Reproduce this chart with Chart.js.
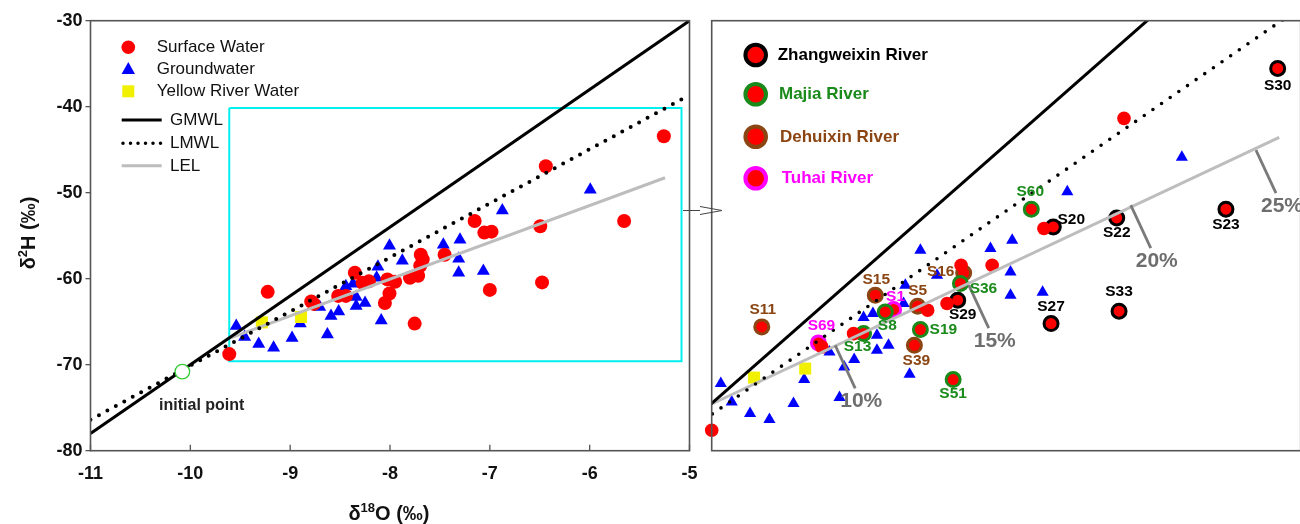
<!DOCTYPE html>
<html><head><meta charset="utf-8">
<script src="https://cdn.jsdelivr.net/npm/chart.js@4.4.1/dist/chart.umd.min.js"></script>
<style>
html,body{margin:0;padding:0;background:#fff;overflow:hidden;width:1300px;height:524px;position:relative;}
#cL{position:absolute;left:0;top:0;}
#cR{position:absolute;left:700px;top:0;}
</style></head><body>
<canvas id="cL" width="700" height="524"></canvas>
<canvas id="cR" width="620" height="524"></canvas>
<script>
// ---------------- DATA ----------------
const xTicks = [-11, -10, -9, -8, -7, -6, -5];
const yTicks = [-80, -70, -60, -50, -40, -30];

// unlabelled surface water samples
const surfaceX = [-9.61, -8.763, -8.519, -7.949, -7.80, -7.692, -7.453, -7.055, -6.439];
const surfaceY = [-68.77, -62.93, -62.0, -60.36, -59.89, -57.21, -57.21, -54.64, -46.93];

// labelled surface water samples (by river)
const riverNames = ['Zhangweixin River', 'Majia River', 'Dehuixin River', 'Tuhai River'];
const sampleIds = ['S20','S22','S23','S27','S29','S30','S33','S8','S13','S19','S36','S51','S60','S5','S11','S15','S16','S39','S1','S69'];
const sampleX = [-6.983,-6.495,-5.655,-7.00,-7.718,-5.257,-6.477,-8.275,-8.442,-8.005,-7.697,-7.753,-7.152,-8.026,-9.225,-8.352,-7.672,-8.051,-8.211,-8.789];
const sampleY = [-54.53,-53.90,-53.29,-61.30,-59.66,-43.43,-60.43,-60.48,-62.0,-61.72,-58.49,-65.22,-53.29,-60.08,-61.53,-59.31,-57.75,-62.82,-60.31,-62.65];
const sampleRiver = [0,0,0,0,0,0,0,1,1,1,1,1,1,2,2,2,2,2,3,3];

// groundwater
const groundX = [-9.54,-9.456,-9.315,-9.166,-8.981,-8.899,-8.627,-8.591,-8.514,-8.704,-8.442,-8.37,-8.339,-8.339,-8.25,-8.121,-8.134,-8.005,-7.877,-8.088,-7.466,-7.299,-7.312,-7.312,-7.065,-6.875,-5.994];
const groundY = [-65.50,-66.79,-67.60,-68.02,-66.90,-65.22,-66.48,-64.34,-63.82,-63.29,-60.88,-60.60,-62.12,-63.17,-62.82,-58.61,-59.89,-56.16,-57.91,-64.85,-56.04,-55.46,-57.68,-59.31,-59.11,-52.07,-49.66];

// Yellow River water
const yellowX = [-9.284, -8.891];
const yellowY = [-65.08, -64.45];

// initial point
const initX = [-10.08];
const initY = [-70.8];

// water lines (end points)
const gmwlX = [-11, -5];      const gmwlY = [-78, -30];
const lmwlX = [-11, -5.03];   const lmwlY = [-76.4, -38.84];
const lelX  = [-9.61, -5.245]; const lelY = [-66.93, -48.26];

// evaporation fractions along LEL
const evapLabels = ['10%', '15%', '20%', '25%'];
const evapX = [-8.66, -7.633, -6.387, -5.424];
const evapY = [-62.82, -58.61, -53.0, -49.15];

// zoom box (left panel) = right panel ranges
const boxX = [-9.61, -5.08];
const boxY = [-69.6, -40.15];
const zoomY = [-70.2, -40.09];

// ---------------- STYLE ----------------
const FONT = "'Liberation Sans', Arial, Helvetica, sans-serif";
const riverColors = ['#000000', '#1a8a1a', '#8b4513', '#ff00ff'];
const labelOffsets = {
  S30:[0,17], S20:[18,-7], S22:[0,15], S23:[0,16], S27:[0,-17], S33:[0,-19], S29:[5,15],
  S60:[-1,-17], S36:[23,5], S19:[23,0], S8:[2,14], S13:[-6,13], S51:[0,14],
  S5:[0,-15], S11:[1,-17], S15:[1,-15], S16:[-23,-1], S39:[2,15], S1:[2,-13], S69:[3,-17]
};
const RED = '#ff0000', BLUE = '#0000ff', YELLOW = '#f0f000';

const pts = (xs, ys) => xs.map((v, i) => ({x: v, y: ys[i]}));

function lineDs(xs, ys, color, width, extra) {
  return Object.assign({type: 'line', data: pts(xs, ys), borderColor: color, borderWidth: width,
    pointRadius: 0, showLine: true, fill: false, tension: 0, clip: 0, order: 0}, extra || {});
}
function pointDs(xs, ys, style, r, bg, extra) {
  return Object.assign({type: 'scatter', data: pts(xs, ys), pointStyle: style, pointRadius: r,
    pointBackgroundColor: bg, pointBorderWidth: 0, pointBorderColor: bg, showLine: false, clip: false, order: 5}, extra || {});
}
function txt(ctx, s, x, y, font, color, align, base) {
  ctx.save(); ctx.font = font; ctx.fillStyle = color;
  ctx.textAlign = align || 'center'; ctx.textBaseline = base || 'middle';
  ctx.fillText(s, x, y); ctx.restore();
}
function supText(ctx, parts, cx, cy, rot) {
  ctx.save();
  ctx.translate(cx, cy); ctx.rotate(rot);
  const big = 'bold 20px ' + FONT, small = 'bold 13px ' + FONT;
  let w = 0;
  parts.forEach(p => { ctx.font = p[1] ? small : big; w += ctx.measureText(p[0]).width; });
  let x = -w / 2;
  ctx.fillStyle = '#111'; ctx.textBaseline = 'alphabetic'; ctx.textAlign = 'left';
  parts.forEach(p => {
    ctx.font = p[1] ? small : big;
    ctx.fillText(p[0], x, p[1] ? -1.5 : 7);
    x += ctx.measureText(p[0]).width;
  });
  ctx.restore();
}
function circle(ctx, x, y, r, fill, stroke, lw) {
  ctx.beginPath(); ctx.arc(x, y, r, 0, Math.PI * 2);
  if (fill) { ctx.fillStyle = fill; ctx.fill(); }
  if (stroke) { ctx.strokeStyle = stroke; ctx.lineWidth = lw; ctx.stroke(); }
}

const common = {
  responsive: false, animation: false, events: [],
  plugins: {legend: {display: false}, tooltip: {enabled: false}}
};

// ---------------- LEFT PANEL ----------------
const allSurfX = surfaceX.concat(sampleX), allSurfY = surfaceY.concat(sampleY);
const boxPathX = [boxX[0], boxX[1], boxX[1], boxX[0], boxX[0]];
const boxPathY = [boxY[1], boxY[1], boxY[0], boxY[0], boxY[1]];

const leftDeco = {
  id: 'leftDeco',
  afterDraw(chart) {
    const {ctx, chartArea: a, scales: {x, y}} = chart;
    ctx.save();
    ctx.strokeStyle = '#555'; ctx.lineWidth = 1.3;
    xTicks.forEach(v => {
      const px = x.getPixelForValue(v);
      ctx.beginPath(); ctx.moveTo(px, a.bottom); ctx.lineTo(px, a.bottom - 6); ctx.stroke();
      txt(ctx, String(v), px, a.bottom + 23, 'bold 18px ' + FONT, '#111');
    });
    ctx.lineWidth = 1.6;
    ctx.strokeRect(a.left, a.top, a.right - a.left, a.bottom - a.top);
    // connector
    ctx.lineWidth = 1; ctx.strokeStyle = '#444';
    ctx.beginPath(); ctx.moveTo(683, 210.5); ctx.lineTo(700, 210.5); ctx.stroke();
    // legend
    circle(ctx, 128.3, 47.3, 6.8, RED);
    ctx.fillStyle = BLUE; ctx.beginPath(); ctx.moveTo(128.3, 62); ctx.lineTo(135, 74); ctx.lineTo(121.6, 74); ctx.closePath(); ctx.fill();
    ctx.fillStyle = YELLOW; ctx.fillRect(122.3, 85.3, 12, 12);
    const lf = '17px ' + FONT;
    txt(ctx, 'Surface Water', 156.7, 47.5, lf, '#111', 'left');
    txt(ctx, 'Groundwater', 156.7, 69.5, lf, '#111', 'left');
    txt(ctx, 'Yellow River Water', 156.7, 91.5, lf, '#111', 'left');
    ctx.lineWidth = 3; ctx.strokeStyle = '#000';
    ctx.beginPath(); ctx.moveTo(121.7, 120); ctx.lineTo(161.7, 120); ctx.stroke();
    ctx.setLineDash([0, 7.5]); ctx.lineCap = 'round'; ctx.lineWidth = 3.5;
    ctx.beginPath(); ctx.moveTo(123, 143.3); ctx.lineTo(161.7, 143.3); ctx.stroke();
    ctx.setLineDash([]); ctx.lineCap = 'butt'; ctx.lineWidth = 3; ctx.strokeStyle = '#bdbdbd';
    ctx.beginPath(); ctx.moveTo(121.7, 165.7); ctx.lineTo(161.7, 165.7); ctx.stroke();
    txt(ctx, 'GMWL', 170, 120.5, lf, '#111', 'left');
    txt(ctx, 'LMWL', 170, 143.5, lf, '#111', 'left');
    txt(ctx, 'LEL', 170, 166, lf, '#111', 'left');
    // initial point label
    txt(ctx, 'initial point', 201.7, 406, 'bold 16px ' + FONT, '#222');
    // axis titles
    supText(ctx, [['δ', 0], ['18', 1], ['O (‰)', 0]], 389, 513, 0);
    supText(ctx, [['δ', 0], ['2', 1], ['H (‰)', 0]], 28, 233, -Math.PI / 2);
    ctx.restore();
  }
};

new Chart(document.getElementById('cL'), {
  type: 'scatter',
  data: {datasets: [
    pointDs(initX, initY, 'circle', 7.3, '#ffffff', {pointBorderWidth: 1.3, pointBorderColor: '#33cc33', order: -1}),
    lineDs(gmwlX, gmwlY, '#000000', 3),
    lineDs(lmwlX, lmwlY, '#000000', 4, {borderDash: [0, 9.6], borderCapStyle: 'round'}),
    lineDs(lelX, lelY, '#bdbdbd', 3),
    pointDs(yellowX, yellowY, 'rect', 8.5, YELLOW, {order: 3}),
    pointDs(allSurfX, allSurfY, 'circle', 7, RED, {order: 4}),
    pointDs(groundX, groundY, 'triangle', 7.5, BLUE, {order: 5}),
    lineDs(boxPathX, boxPathY, '#00f0f0', 2, {order: 10})
  ]},
  options: Object.assign({}, common, {
    layout: {padding: {left: 0, top: 20.7, right: 10.5, bottom: 0}},
    scales: {
      x: {type: 'linear', min: -11, max: -5,
        afterBuildTicks: s => { s.ticks = xTicks.map(v => ({value: v})); },
        afterFit: s => { s.height = 73.3; },
        grid: {display: false, drawTicks: false}, border: {display: false},
        ticks: {display: false}},
      y: {type: 'linear', min: -80, max: -30,
        afterBuildTicks: s => { s.ticks = yTicks.map(v => ({value: v})); },
        afterFit: s => { s.width = 90.5; },
        grid: {display: true, drawOnChartArea: false, drawTicks: true, tickLength: 5, color: '#555', lineWidth: 1.3},
        border: {display: false},
        ticks: {padding: 3, color: '#111', font: {family: FONT, size: 18, weight: 'bold'}}}
    }
  }),
  plugins: [leftDeco]
});

// ---------------- RIGHT PANEL ----------------
const rightDeco = {
  id: 'rightDeco',
  afterDatasetsDraw(chart) {
    const {ctx, scales: {x, y}} = chart;
    ctx.save();
    ctx.strokeStyle = '#7a7a7a'; ctx.lineWidth = 2.8;
    evapX.forEach((v, i) => {
      const px = x.getPixelForValue(v), py = y.getPixelForValue(evapY[i]);
      ctx.beginPath(); ctx.moveTo(px, py); ctx.lineTo(px + 20, py + 43); ctx.stroke();
      txt(ctx, evapLabels[i], px + 26, py + 56, 'bold 21px ' + FONT, '#6e6e6e');
    });
    sampleIds.forEach((id, i) => {
      const px = x.getPixelForValue(sampleX[i]), py = y.getPixelForValue(sampleY[i]);
      const o = labelOffsets[id] || [0, -15];
      txt(ctx, id, px + o[0], py + o[1], 'bold 15.5px ' + FONT, riverColors[sampleRiver[i]]);
    });
    ctx.restore();
  },
  afterDraw(chart) {
    const {ctx, chartArea: a} = chart;
    ctx.save();
    ctx.strokeStyle = '#555'; ctx.lineWidth = 1.6;
    ctx.strokeRect(a.left, a.top, a.right - a.left, a.bottom - a.top);
    ctx.strokeStyle = '#444'; ctx.lineWidth = 1;
    ctx.beginPath(); ctx.moveTo(0, 206.5); ctx.lineTo(22, 210.5); ctx.lineTo(0, 214.5); ctx.stroke();
    const ly = [55, 94.3, 136.7, 178.3], lx = [77.7, 79, 80, 81.7];
    riverNames.forEach((n, i) => {
      circle(ctx, 55.7, ly[i], 10.3, RED, riverColors[i], 4);
      txt(ctx, n, lx[i], ly[i] + 0.5, 'bold 17px ' + FONT, riverColors[i], 'left');
    });
    ctx.restore();
  }
};

const riverDatasets = riverNames.map((n, r) => {
  const xs = [], ys = [];
  sampleRiver.forEach((rv, i) => { if (rv === r) { xs.push(sampleX[i]); ys.push(sampleY[i]); } });
  return pointDs(xs, ys, 'circle', 7, RED, {pointBorderWidth: 3, pointBorderColor: riverColors[r], order: 4});
});

new Chart(document.getElementById('cR'), {
  type: 'scatter',
  data: {datasets: [
    lineDs(gmwlX, gmwlY, '#000000', 3),
    lineDs(lmwlX, lmwlY, '#000000', 3.6, {borderDash: [0, 10.5], borderCapStyle: 'round'}),
    lineDs(lelX, lelY, '#bdbdbd', 3),
    pointDs(yellowX, yellowY, 'rect', 8.5, YELLOW, {order: 2}),
    pointDs(surfaceX, surfaceY, 'circle', 6.8, RED, {order: 3}),
    ...riverDatasets,
    pointDs(groundX, groundY, 'triangle', 7, BLUE, {order: 5})
  ]},
  options: Object.assign({}, common, {
    layout: {padding: {left: 11.7, top: 20.7, right: 19.3, bottom: 73.3}},
    scales: {
      x: {type: 'linear', min: boxX[0], max: boxX[1], display: false},
      y: {type: 'linear', min: zoomY[0], max: zoomY[1], display: false}
    }
  }),
  plugins: [rightDeco]
});
</script>
</body></html>
